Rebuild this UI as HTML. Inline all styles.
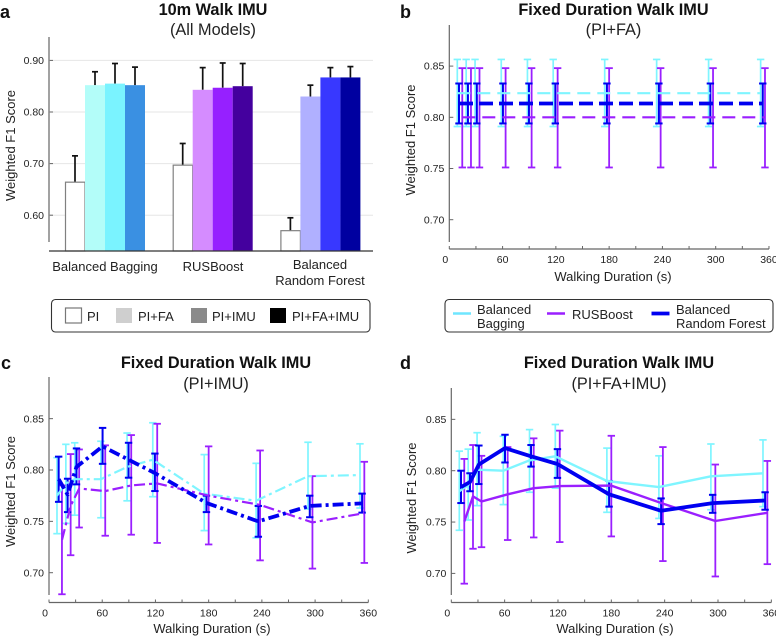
<!DOCTYPE html>
<html>
<head>
<meta charset="utf-8">
<title>Walk IMU model comparison</title>
<style>
html,body{margin:0;padding:0;background:#fff;}
body{width:776px;height:637px;overflow:hidden;}
svg{display:block;filter:blur(0.3px);}
text{font-family:"Liberation Sans",sans-serif;fill:#1a1a1a;}
.title{font-size:16.3px;font-weight:bold;text-anchor:middle;fill:#111;}
.sub{font-size:16.3px;text-anchor:middle;fill:#222;}
.letter{font-size:18px;font-weight:bold;fill:#111;}
.axt{font-size:13px;text-anchor:middle;fill:#222;}
.tick{font-size:10.5px;fill:#222;}
.leg{font-size:13px;fill:#222;}
</style>
</head>
<body>
<svg id="chart" xmlns="http://www.w3.org/2000/svg" width="776" height="637" viewBox="0 0 776 637">
  <rect width="776" height="637" fill="#fff"/>
  <text class="letter" x="0" y="18">a</text>
  <text class="letter" x="400" y="18">b</text>
  <text class="letter" x="1" y="369">c</text>
  <text class="letter" x="400" y="369">d</text>

  <text class="title" x="213" y="15">10m Walk IMU</text>
  <text class="sub" x="213" y="35">(All Models)</text>
  <text class="title" x="613.5" y="15">Fixed Duration Walk IMU</text>
  <text class="sub" x="613.5" y="35">(PI+FA)</text>
  <text class="title" x="216" y="368">Fixed Duration Walk IMU</text>
  <text class="sub" x="216" y="389">(PI+IMU)</text>
  <text class="title" x="619" y="368">Fixed Duration Walk IMU</text>
  <text class="sub" x="619" y="389">(PI+FA+IMU)</text>

  <text class="axt" transform="translate(15,145.5) rotate(-90)">Weighted F1 Score</text>
  <text class="axt" transform="translate(415,140) rotate(-90)">Weighted F1 Score</text>
  <text class="axt" transform="translate(15,491.5) rotate(-90)">Weighted F1 Score</text>
  <text class="axt" transform="translate(416,498) rotate(-90)">Weighted F1 Score</text>
  <text class="axt" x="613" y="281">Walking Duration (s)</text>
  <text class="axt" x="212" y="633">Walking Duration (s)</text>
  <text class="axt" x="615" y="633">Walking Duration (s)</text>

  <g id="layer-a"></g>
  <g id="layer-b"></g>
  <g id="layer-c"></g>
  <g id="layer-d"></g>

  <text class="axt" x="105" y="271">Balanced Bagging</text>
  <text class="axt" x="213" y="271">RUSBoost</text>
  <text class="axt" x="320" y="269">Balanced</text>
  <text class="axt" x="320" y="285">Random Forest</text>

  <g>
    <rect x="51.5" y="299.5" width="318.5" height="32.5" rx="4" fill="#fff" stroke="#333" stroke-width="1.1"/>
    <rect x="65.5" y="308" width="16" height="15" fill="#fff" stroke="#777" stroke-width="1.2"/>
    <text class="leg" x="87" y="321">PI</text>
    <rect x="116" y="308" width="16" height="15" fill="#cfcfcf"/>
    <text class="leg" x="138" y="321">PI+FA</text>
    <rect x="191" y="308" width="16" height="15" fill="#8a8a8a"/>
    <text class="leg" x="212" y="321">PI+IMU</text>
    <rect x="270" y="308" width="16" height="15" fill="#000"/>
    <text class="leg" x="292" y="321">PI+FA+IMU</text>
  </g>

  <g>
    <rect x="445" y="299.5" width="328" height="32.5" rx="4" fill="#fff" stroke="#333" stroke-width="1.1"/>
    <line x1="453" x2="471" y1="313.5" y2="313.5" stroke="#6fe6ff" stroke-width="2.6"/>
    <text class="leg" x="477" y="314">Balanced</text>
    <text class="leg" x="477" y="328">Bagging</text>
    <line x1="547" x2="565" y1="313.5" y2="313.5" stroke="#9a1fff" stroke-width="2.6"/>
    <text class="leg" x="572" y="319">RUSBoost</text>
    <line x1="651.5" x2="669.5" y1="313.5" y2="313.5" stroke="#0000f0" stroke-width="3.8"/>
    <text class="leg" x="676" y="314">Balanced</text>
    <text class="leg" x="676" y="328">Random Forest</text>
  </g>
</svg>

<script>
// Panel a: bar values, three models by four feature sets
const barCategories = ['Balanced Bagging', 'RUSBoost', 'Balanced Random Forest'];
const barMeans = [[0.664, 0.852, 0.855, 0.852], [0.697, 0.843, 0.847, 0.850], [0.570, 0.830, 0.867, 0.867]];
const barUppers = [[0.715, 0.878, 0.894, 0.887], [0.739, 0.886, 0.895, 0.894], [0.595, 0.852, 0.886, 0.888]];
const barTicks = [0.6, 0.7, 0.8, 0.9];
const lineYTicks = [0.70, 0.75, 0.80, 0.85];
const lineXTicks = [0, 30, 60, 90, 120, 150, 180, 210, 240, 270, 300, 330, 360];

// Recorded walking durations for each model (s)
const durationsBagging = [9, 19, 29, 58.5, 88, 117, 175, 233.5, 292, 350.6];
const durationsRus = [14.6, 24.4, 34, 63.4, 92.7, 122, 180, 238, 297, 355.5];
const durationsForest = [10.9, 21, 31, 60.4, 89.7, 119.4, 177.5, 236, 294, 353];

// Panel b: PI+FA
const bBaggingMean = [0.8235, 0.8235, 0.8235, 0.8235, 0.8235, 0.8235, 0.8235, 0.8235, 0.8235, 0.8235];
const bBaggingUp = [0.8565, 0.8565, 0.8565, 0.8565, 0.8565, 0.8565, 0.8565, 0.8565, 0.8565, 0.8565];
const bBaggingLow = [0.791, 0.791, 0.791, 0.791, 0.791, 0.791, 0.791, 0.791, 0.791, 0.791];
const bRusMean = [0.80, 0.80, 0.80, 0.80, 0.80, 0.80, 0.80, 0.80, 0.80, 0.80];
const bRusUp = [0.848, 0.848, 0.848, 0.848, 0.848, 0.848, 0.848, 0.848, 0.848, 0.848];
const bRusLow = [0.751, 0.751, 0.751, 0.751, 0.751, 0.751, 0.751, 0.751, 0.751, 0.751];
const bForestMean = [0.8135, 0.8135, 0.8135, 0.8135, 0.8135, 0.8135, 0.8135, 0.8135, 0.8135, 0.8135];
const bForestUp = [0.833, 0.833, 0.833, 0.833, 0.833, 0.833, 0.833, 0.833, 0.833, 0.833];
const bForestLow = [0.794, 0.794, 0.794, 0.794, 0.794, 0.794, 0.794, 0.794, 0.794, 0.794];

// Panel c: PI+IMU
const cBaggingMean = [0.775, 0.787, 0.791, 0.791, 0.803, 0.81, 0.777, 0.77, 0.794, 0.795];
const cBaggingUp = [0.812, 0.825, 0.8265, 0.828, 0.836, 0.846, 0.815, 0.8065, 0.827, 0.8255];
const cBaggingLow = [0.738, 0.748, 0.756, 0.7535, 0.77, 0.774, 0.741, 0.734, 0.762, 0.763];
const cRusMean = [0.732, 0.765, 0.782, 0.7795, 0.785, 0.787, 0.775, 0.766, 0.749, 0.758];
const cRusUp = [0.785, 0.8155, 0.82, 0.824, 0.834, 0.845, 0.823, 0.819, 0.794, 0.808];
const cRusLow = [0.679, 0.717, 0.744, 0.736, 0.737, 0.729, 0.7275, 0.712, 0.704, 0.7095];
const cForestMean = [0.791, 0.776, 0.803, 0.823, 0.81, 0.797, 0.768, 0.75, 0.765, 0.7675];
const cForestUp = [0.813, 0.7915, 0.821, 0.841, 0.8265, 0.816, 0.775, 0.765, 0.775, 0.777];
const cForestLow = [0.769, 0.759, 0.786, 0.806, 0.7925, 0.7795, 0.759, 0.735, 0.754, 0.7585];

// Panel d: PI+FA+IMU
const dBaggingMean = [0.78, 0.786, 0.801, 0.80, 0.81, 0.814, 0.79, 0.784, 0.7945, 0.7975];
const dBaggingUp = [0.819, 0.821, 0.837, 0.8335, 0.84, 0.845, 0.822, 0.8145, 0.826, 0.83];
const dBaggingLow = [0.742, 0.752, 0.766, 0.767, 0.779, 0.783, 0.7595, 0.7535, 0.762, 0.765];
const dRusMean = [0.7505, 0.775, 0.77, 0.777, 0.783, 0.785, 0.7855, 0.768, 0.751, 0.759];
const dRusUp = [0.8115, 0.825, 0.8145, 0.823, 0.8315, 0.839, 0.834, 0.823, 0.806, 0.8095];
const dRusLow = [0.69, 0.724, 0.7255, 0.7325, 0.735, 0.7305, 0.736, 0.712, 0.697, 0.709];
const dForestMean = [0.784, 0.789, 0.806, 0.822, 0.814, 0.8065, 0.777, 0.761, 0.7685, 0.771];
const dForestUp = [0.80, 0.7975, 0.8245, 0.835, 0.825, 0.821, 0.79, 0.773, 0.7765, 0.779];
const dForestLow = [0.7685, 0.78, 0.787, 0.808, 0.804, 0.793, 0.765, 0.748, 0.759, 0.762];

const NS = 'http://www.w3.org/2000/svg';
const BAG = '#7ff5ff', RUS = '#9a1fff', FOR = '#0000f0';
const barColors = [['#ffffff', '#b3fdf9', '#7af3ff', '#3a90e2'], ['#ffffff', '#d58cff', '#9620ff', '#44009e'], ['#ffffff', '#b0b0ff', '#3838ff', '#0000a0']];
const barFeatureNames = ['pi', 'pi-fa', 'pi-imu', 'pi-fa-imu'];

function make(tag, attrs, parent) {
  const el = document.createElementNS(NS, tag);
  for (const k in attrs) el.setAttribute(k, attrs[k]);
  parent.appendChild(el);
  return el;
}

// Axis functions
function barY(v) { return 112 + (0.8 - v) * 516; }
function barX(group, i) { return 65 + group * 107.7 + i * 20; }
function panelX(p, t) { return p.x0 + t * p.sx; }
function panelY(p, v) { return p.y80 + (0.8 - v) * p.sy; }

// Panel a
const la = document.getElementById('layer-a');
barTicks.forEach(function (t) {
  const y = barY(t);
  const grid = make('line', { x1: 49, x2: 373, y1: y, y2: y, stroke: '#e6e6e6', 'stroke-width': 1 }, la);
  
  
  const tk = make('line', { x1: 49, x2: 53, y1: y, y2: y, stroke: '#666', 'stroke-width': 1 }, la);
  
  
  const lb = make('text', { x: 44, y: y + 3.6, 'text-anchor': 'end', class: 'tick' }, la);
  
  
  lb.textContent = t.toFixed(2);
});
const aAxis = make('line', { x1: 49, x2: 49, y1: 37, y2: 242, stroke: '#8a8a8a', 'stroke-width': 1.6 }, la);


barCategories.forEach(function (name, g) {
  barMeans[g].forEach(function (m, i) {
    const x = barX(g, i), y = barY(m), top = barY(barUppers[g][i]), cx = x + 10;
    const eb = make('line', { x1: cx, x2: cx, y1: top, y2: y, stroke: '#111', 'stroke-width': 1.7 }, la);
    
    
    const cap = make('line', { x1: cx - 3, x2: cx + 3, y1: top, y2: top, stroke: '#111', 'stroke-width': 1.7 }, la);
    
    
    const white = i === 0;
    const r = make('rect', { x: white ? x + 0.5 : x, y: y, width: white ? 19.5 : 20, height: 251 - y, fill: barColors[g][i], stroke: white ? '#808080' : 'none', 'stroke-width': 1.2 }, la);
    
    
  });
});
const aBase = make('line', { x1: 49, x2: 373, y1: 251, y2: 251, stroke: '#333', 'stroke-width': 1.2 }, la);



// Line panels
function drawAxes(p, g) {
  const ax = make('line', { x1: p.x0, x2: p.x0, y1: p.top, y2: p.bot, stroke: '#666', 'stroke-width': 1.2 }, g);
  
  
  const bx = make('line', { x1: p.x0, x2: panelX(p, 360), y1: p.xAxis, y2: p.xAxis, stroke: '#666', 'stroke-width': 1.2 }, g);
  
  
  lineYTicks.forEach(function (t) {
    const y = panelY(p, t);
    const tk = make('line', { x1: p.x0, x2: p.x0 + 4, y1: y, y2: y, stroke: '#666', 'stroke-width': 1 }, g);
    
    
    const lb = make('text', { x: p.x0 - 5, y: y + 3.6, 'text-anchor': 'end', class: 'tick' }, g);
    
    
    lb.textContent = t.toFixed(2);
  });
  lineXTicks.forEach(function (t) {
    const x = panelX(p, t);
    const tk = make('line', { x1: x, x2: x, y1: p.xAxis - 3, y2: p.xAxis, stroke: '#666', 'stroke-width': 1 }, g);
    
    
    if (t % 60 === 0) {
      const lb = make('text', { x: t === 0 ? x - 4 : x, y: p.xAxis + 14, 'text-anchor': 'middle', class: 'tick' }, g);
      
      
      lb.textContent = t;
    }
  });
}

function drawBars(p, g, xs, up, low, color, w) {
  xs.forEach(function (t, i) {
    const x = panelX(p, t), yu = panelY(p, up[i]), yl = panelY(p, low[i]);
    const stem = make('line', { x1: x, x2: x, y1: yu, y2: yl, stroke: color, 'stroke-width': w }, g);
    
    
    const c1 = make('line', { x1: x - 3.7, x2: x + 3.7, y1: yu, y2: yu, stroke: color, 'stroke-width': w }, g);
    
    
    const c2 = make('line', { x1: x - 3.7, x2: x + 3.7, y1: yl, y2: yl, stroke: color, 'stroke-width': w }, g);
    
    
  });
}

function drawLine(p, g, xs, mean, color, w, dash, name) {
  const pts = xs.map(function (t, i) { return panelX(p, t).toFixed(1) + ',' + panelY(p, mean[i]).toFixed(1); }).join(' ');
  const attrs = { points: pts, fill: 'none', stroke: color, 'stroke-width': w, 'stroke-linejoin': 'round' };
  if (dash) attrs['stroke-dasharray'] = dash;
  const l = make('polyline', attrs, g);
  
  
}

const panelB = { x0: 449.3, sx: 0.888, y80: 117.3, sy: 1024, top: 25, bot: 242, xAxis: 249 };
const panelC = { x0: 49, sx: 0.887, y80: 470, sy: 1027, top: 377, bot: 595, xAxis: 602.5 };
const panelD = { x0: 451.3, sx: 0.889, y80: 470.7, sy: 1027, top: 388, bot: 595, xAxis: 602.5 };

function drawPanel(p, id, sets, dashes, widths) {
  const g = document.getElementById(id);
  drawAxes(p, g);
  drawBars(p, g, durationsBagging, sets.bagUp, sets.bagLow, BAG, 1.7);
  drawBars(p, g, durationsRus, sets.rusUp, sets.rusLow, RUS, 1.8);
  drawBars(p, g, durationsForest, sets.forUp, sets.forLow, FOR, 2);
  drawLine(p, g, durationsBagging, sets.bagMean, BAG, widths[0], dashes[0], 'line-balanced-bagging');
  drawLine(p, g, durationsRus, sets.rusMean, RUS, widths[1], dashes[1], 'line-rusboost');
  drawLine(p, g, durationsForest, sets.forMean, FOR, widths[2], dashes[2], 'line-balanced-random-forest');
}

drawPanel(panelB, 'layer-b', {
  bagMean: bBaggingMean, bagUp: bBaggingUp, bagLow: bBaggingLow,
  rusMean: bRusMean, rusUp: bRusUp, rusLow: bRusLow,
  forMean: bForestMean, forUp: bForestUp, forLow: bForestLow
}, ['13 7', '13 7', '14 6'], [2.2, 2.2, 3.8]);

drawPanel(panelC, 'layer-c', {
  bagMean: cBaggingMean, bagUp: cBaggingUp, bagLow: cBaggingLow,
  rusMean: cRusMean, rusUp: cRusUp, rusLow: cRusLow,
  forMean: cForestMean, forUp: cForestUp, forLow: cForestLow
}, ['11 4 3 4', '11 4 3 4', '11 4 3 4'], [2.2, 2.2, 3.8]);

drawPanel(panelD, 'layer-d', {
  bagMean: dBaggingMean, bagUp: dBaggingUp, bagLow: dBaggingLow,
  rusMean: dRusMean, rusUp: dRusUp, rusLow: dRusLow,
  forMean: dForestMean, forUp: dForestUp, forLow: dForestLow
}, [null, null, null], [2.4, 2.4, 3.8]);
</script>
</body>
</html>
